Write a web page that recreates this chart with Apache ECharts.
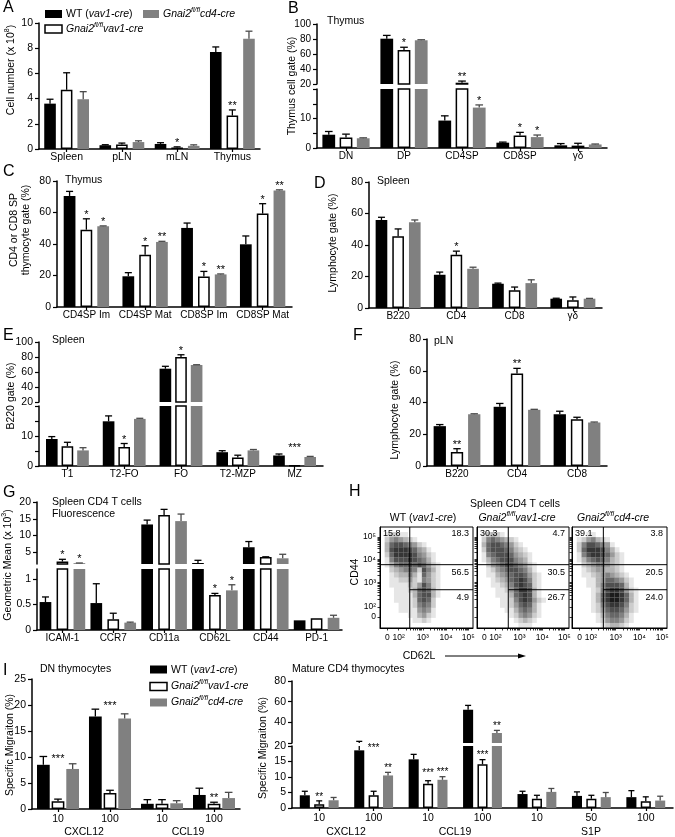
<!DOCTYPE html>
<html>
<head>
<meta charset="utf-8">
<script src="https://cdn.jsdelivr.net/npm/echarts@6.0.0/dist/echarts.min.js"></script>
<style>
html,body{margin:0;padding:0;background:#fff;}
#chart{width:675px;height:837px;}
</style>
</head>
<body>
<div id="chart"></div>
<script>
const FONT = '"Liberation Sans", Arial, Helvetica, sans-serif';

// ===== Panel A : cell number (x 10^8) =====
const catsA = ['Spleen', 'pLN', 'mLN', 'Thymus'];
const wtA = [3.6, 0.3, 0.4, 7.7];
const wtErrA = [0.35, 0.04, 0.1, 0.4];
const koA = [4.7, 0.35, 0.12, 2.65];
const koErrA = [1.35, 0.12, 0.05, 0.45];
const cdA = [3.95, 0.55, 0.25, 8.75];
const cdErrA = [0.6, 0.1, 0.08, 0.6];
const koStarA = ['', '', '*', '**'];
const ticksA = [0, 2, 4, 6, 8, 10];

// ===== Panel B : thymus cell gate (%) =====
const catsB = ['DN', 'DP', 'CD4SP', 'CD8SP', 'γδ'];
const wtB = [4.5, 80.4, 9.3, 1.8, 0.9];
const wtErrB = [1.1, 4.4, 1.6, 0.2, 0.6];
const koB = [3.6, 65.2, 21.7, 4.2, 0.8];
const koErrB = [1.1, 3.8, 2.2, 1.1, 0.8];
const cdB = [3.3, 78.3, 13.7, 3.7, 1.2];
const cdErrB = [0.15, 0.7, 0.9, 0.7, 0.15];
const koStarB = ['', '*', '**', '*', ''];
const cdStarB = ['', '', '*', '*', ''];
const ticksBUp = [20, 40, 60, 80, 100];
const ticksBLow = [0, 5, 10, 15, 20];
const labelsBLow = [0, 10];

// ===== Panel C : CD4 or CD8 SP thymocyte gate (%) =====
const catsC = ['CD4SP Im', 'CD4SP Mat', 'CD8SP Im', 'CD8SP Mat'];
const wtC = [70.5, 19.5, 50.2, 39.8];
const wtErrC = [2.9, 2.3, 3.1, 5.3];
const koC = [49.1, 33.2, 19.3, 59.3];
const koErrC = [6.9, 5.7, 3.3, 6.3];
const cdC = [51.2, 41.3, 20.7, 74.0];
const cdErrC = [0.3, 0.4, 0.3, 0.4];
const koStarC = ['*', '*', '*', '*'];
const cdStarC = ['*', '**', '**', '**'];
const ticks80 = [0, 20, 40, 60, 80];

// ===== Panel D : spleen lymphocyte gate (%) =====
const catsD = ['B220', 'CD4', 'CD8', 'γδ'];
const wtD = [55.9, 21.1, 15.4, 5.9];
const wtErrD = [1.7, 1.7, 0.4, 0.3];
const koD = [45.6, 33.8, 11.2, 4.9];
const koErrD = [4.6, 2.3, 2.1, 2.1];
const cdD = [54.4, 24.9, 15.8, 5.9];
const cdErrD = [1.5, 1.0, 2.1, 0.2];
const koStarD = ['', '*', '', ''];

// ===== Panel E : B220 gate (%) =====
const catsE = ['T1', 'T2-FO', 'FO', 'T2-MZP', 'MZ'];
const wtE = [9.0, 14.9, 64.4, 4.6, 3.5];
const wtErrE = [0.8, 1.8, 3.2, 0.5, 0.5];
const koE = [6.6, 6.3, 80.0, 2.8, 0.2];
const koErrE = [1.3, 1.2, 3.0, 0.8, 0];
const cdE = [5.2, 15.7, 69.3, 5.2, 3.0];
const cdErrE = [0.9, 0.2, 0.4, 0.3, 0.2];
const koStarE = ['', '*', '*', '', '***'];
const koStarLevelE = [null, null, null, null, 4.8];
const ticksEUp = [20, 40, 60, 80, 100];
const ticksELow = [0, 5, 10, 15, 20];
const labelsELow = [0, 10];

// ===== Panel F : pLN lymphocyte gate (%) =====
const catsF = ['B220', 'CD4', 'CD8'];
const wtF = [25.1, 37.3, 32.6];
const wtErrF = [1.0, 2.1, 1.9];
const koF = [8.8, 58.3, 29.5];
const koErrF = [2.1, 3.2, 1.2];
const cdF = [32.6, 35.4, 27.4];
const cdErrF = [0.3, 0.3, 0.3];
const koStarF = ['**', '**', ''];

// ===== Panel G : geometric mean (x 10^3) =====
const catsG = ['ICAM-1', 'CCR7', 'CD11a', 'CD62L', 'CD44', 'PD-1'];
const wtG = [0.55, 0.53, 13.3, 1.8, 6.5, 0.19];
const wtErrG = [0.1, 0.38, 1.3, 0.8, 1.7, 0];
const koG = [2.23, 0.21, 16.1, 0.69, 3.6, 0.23];
const koErrG = [0.67, 0.12, 1.7, 0.03, 0.05, 0];
const cdG = [1.75, 0.145, 14.3, 0.78, 3.2, 0.24];
const cdErrG = [0.05, 0.01, 2.1, 0.11, 1.2, 0.05];
const koStarG = ['*', '', '', '*', '', ''];
const cdStarG = ['*', '', '', '*', '', ''];
const ticksGUp = [5, 10, 15, 20];
const ticksGLow = [0, 0.5, 1];

// ===== Panel I (left) : DN thymocytes specific migration (%) =====
const catsIL = ['10', '100', '10', '100'];
const wtIL = [8.5, 17.8, 1.0, 2.7];
const wtErrIL = [1.6, 1.4, 0.8, 1.3];
const koIL = [1.5, 3.1, 1.0, 1.0];
const koErrIL = [0.4, 0.5, 0.8, 0.3];
const cdIL = [7.7, 17.4, 1.1, 2.1];
const cdErrIL = [1.0, 0.9, 0.5, 1.1];
const koStarIL = ['***', '***', '', '**'];
const koStarLevelIL = [8.9, 19.0, null, null];
const ticksIL = [0, 5, 10, 15, 20, 25];
const groupsIL = ['CXCL12', 'CCL19'];

// ===== Panel I (right) : mature CD4 thymocytes specific migration (%) =====
const catsIR = ['10', '100', '10', '100', '10', '50', '100'];
const wtIR = [4.1, 18.6, 15.7, 52.2, 4.5, 3.9, 3.5];
const wtErrIR = [1.3, 3.0, 1.6, 4.2, 0.9, 1.3, 2.1];
const koIR = [1.2, 4.1, 7.8, 14.1, 3.0, 3.0, 2.2];
const koErrIR = [1.1, 1.3, 1.0, 1.5, 1.1, 1.1, 1.4];
const cdIR = [2.5, 10.5, 9.1, 29.7, 5.2, 3.5, 2.4];
const cdErrIR = [0.9, 1.0, 1.0, 2.5, 1.1, 1.5, 1.4];
const koStarIR = ['**', '***', '***', '***', '', '', ''];
const koStarLevelIR = [null, 18.0, 9.9, null, null, null, null];
const cdStarIR = ['', '**', '***', '**', '', '', ''];
const ticksIRUp = [20, 40, 60, 80];
const labelsIRUp = [40, 60, 80];
const ticksIRLow = [0, 5, 10, 15, 20];
const groupsIR = ['CXCL12', 'CCL19', 'S1P'];

// ===== Panel H : flow cytometry (CD62L vs CD44), density, rows top->bottom =====
const densWT = [
  '00000000000000000000',
  '01221100000000000000',
  '02454321000000000000',
  '03677654210000000000',
  '03788876431000000000',
  '02688887542100000000',
  '01577787653100000000',
  '01356676764210000000',
  '00234565275310000000',
  '00123353164210000000',
  '00112242154210000000',
  '00111132475210000000',
  '00011123676310000000',
  '00011113677310000000',
  '00011112676200000000',
  '00001112565200000000',
  '00001111454100000000',
  '00000011342100000000',
  '00000001121000000000',
  '00000000000000000000'
];
const densKO = [
  '00000000000000000000',
  '01232100000000000000',
  '02565432100000000000',
  '03677654210000000000',
  '02677765321000000000',
  '01567776432100000000',
  '01356777543100000000',
  '00245677654210000000',
  '00124567765310000000',
  '00113456776421000000',
  '00012346787521000000',
  '00011235787621000000',
  '00001124688731000000',
  '00001113678731000000',
  '00000112578742100000',
  '00000112467631000000',
  '00000011356531000000',
  '00000001245421000000',
  '00000000123210000000',
  '00000000011100000000'
];
const densCD = [
  '00000000000000000000',
  '00011000000000000000',
  '01245321000000000000',
  '02577654100000000000',
  '02688875310000000000',
  '01578876421000000000',
  '01356765321000000000',
  '00234554321000000000',
  '00123443321000000000',
  '00112345432100000000',
  '00011346654210000000',
  '00011357776310000000',
  '00001257887421000000',
  '00001368998631000000',
  '00001368998631000000',
  '00001257887521000000',
  '00001246776421000000',
  '00000135665310000000',
  '00000124554210000000',
  '00000012332100000000'
];
const gateXH = [32, 34, 33];       // CD62L gate (display units)
const gateHiH = [62.7, 62.7, 62.7]; // CD44 high gate
const gateLoH = [37.9, 37.9, 37.9]; // CD44 int/low gate
const pctWT = ['15.8', '18.3', '56.5', '4.9'];
const pctKO = ['30.3', '4.7', '30.5', '26.7'];
const pctCD = ['39.1', '3.8', '20.5', '24.0'];
const hLabelX = [8, 20, 46, 71, 95];
const hLabelY = [11, 21, 45, 68, 90];
const hLabelText = ['0', '10²', '10³', '10⁴', '10⁵'];

// ================= build =================
const grids = [], xAxis = [], yAxis = [], series = [], graphic = [];
const KEYS = ['wt', 'ko', 'cd'];
const BAR_STYLE = [
  { color: '#000' },
  { color: '#fff', borderColor: '#000', borderWidth: 1.5 },
  { color: '#808080' }
];
const ERR_COLOR = ['#000', '#000', '#4a4a4a'];

function makeErr(p, meta) {
  return function (params, api) {
    const i = api.value(0), j = api.value(1), v = api.value(2), e = api.value(3);
    const band = api.size([1, 0])[0];
    const w = band * p.bw, g = w * p.gap, total = 3 * w + 2 * g;
    const cx = api.coord([i, 0])[0] - total / 2 + w / 2 + j * (w + g);
    const cs = params.coordSys, top = cs.y, bot = cs.y + cs.height;
    const yb = api.coord([i, v])[1], yt = api.coord([i, v + e])[1];
    const ch = [];
    const st = { stroke: ERR_COLOR[j], lineWidth: 1.3 };
    if (e > 0) {
      const y1 = Math.min(yb, bot), y2 = Math.max(yt, top);
      if (y1 > y2 + 0.1) ch.push({ type: 'line', shape: { x1: cx, y1: y1, x2: cx, y2: y2 }, style: st });
      if (yt >= top - 0.5 && yt <= bot + 0.5) {
        const cw = w * 0.3;
        ch.push({ type: 'line', shape: { x1: cx - cw, y1: yt, x2: cx + cw, y2: yt }, style: st });
      }
    }
    const m = meta[params.dataIndex];
    if (m.star) {
      const lvl = (m.level != null) ? m.level : v + e;
      const ys = api.coord([i, lvl])[1];
      if (ys >= top - 1 && ys <= bot) {
        ch.push({ type: 'text', x: cx, y: ys - 4, style: { text: m.star, align: 'center', verticalAlign: 'middle', textAlign: 'center', textVerticalAlign: 'middle', fontSize: p.starFont || 11, fontFamily: FONT, fill: '#000' } });
      }
    }
    return { type: 'group', children: ch };
  };
}

function addBarPanel(p) {
  p.segs.forEach(s => {
    const gi = grids.length;
    grids.push({ left: s.l, top: s.t, width: s.w, height: s.h, containLabel: false, outerBoundsMode: 'none' });
    xAxis.push({
      type: 'category', gridIndex: gi, data: p.cats, show: !!s.showX,
      axisLine: { show: !!s.showX, lineStyle: { color: '#000', width: 1.5 } },
      axisTick: { show: !!s.showX, alignWithLabel: true, length: 3, lineStyle: { color: '#000', width: 1.2 } },
      axisLabel: { show: !!s.showX, interval: 0, color: '#000', fontSize: p.catFont || 10, fontFamily: FONT, margin: p.catMargin || 3 },
      splitLine: { show: false }
    });
    yAxis.push({
      type: 'value', gridIndex: gi, min: s.min, max: s.max,
      axisLine: { show: true, lineStyle: { color: '#000', width: 1.5 } },
      axisTick: { show: true, length: 4, customValues: s.ticks, lineStyle: { color: '#000', width: 1.2 } },
      axisLabel: { show: true, customValues: s.labels || s.ticks, color: '#000', fontSize: p.tickFont || 10.5, fontFamily: FONT, margin: 6 },
      splitLine: { show: false }
    });
    KEYS.forEach((k, j) => series.push({
      type: 'bar', xAxisIndex: gi, yAxisIndex: gi, data: p[k],
      barWidth: (p.bw * 100) + '%', barGap: (p.gap * 100) + '%',
      itemStyle: BAR_STYLE[j], clip: true, silent: true, animation: false, z: 2
    }));
    const items = [], meta = [];
    KEYS.forEach((k, j) => p[k].forEach((v, i) => {
      items.push([i, j, v, p[k + 'Err'][i]]);
      meta.push({ star: (p[k + 'Star'] || [])[i] || '', level: (p[k + 'Level'] || [])[i] });
    }));
    series.push({
      type: 'custom', xAxisIndex: gi, yAxisIndex: gi, data: items, encode: { x: 0, y: 2 },
      silent: true, animation: false, z: 5, renderItem: makeErr(p, meta)
    });
  });
}

addBarPanel({ cats: catsA, wt: wtA, wtErr: wtErrA, ko: koA, koErr: koErrA, cd: cdA, cdErr: cdErrA, koStar: koStarA,
  bw: 0.21, gap: 0.43, catFont: 10.5,
  segs: [{ l: 39, t: 23, w: 221, h: 126, min: 0, max: 10, ticks: ticksA, showX: true }] });

addBarPanel({ cats: catsB, wt: wtB, wtErr: wtErrB, ko: koB, koErr: koErrB, cd: cdB, cdErr: cdErrB, koStar: koStarB, cdStar: cdStarB,
  bw: 0.22, gap: 0.35, tickFont: 10,
  segs: [{ l: 317, t: 24, w: 290, h: 60, min: 20, max: 100, ticks: ticksBUp, showX: false },
         { l: 317, t: 89, w: 290, h: 59, min: 0, max: 20, ticks: ticksBLow, labels: labelsBLow, showX: true }] });

addBarPanel({ cats: catsC, wt: wtC, wtErr: wtErrC, ko: koC, koErr: koErrC, cd: cdC, cdErr: cdErrC, koStar: koStarC, cdStar: cdStarC,
  bw: 0.20, gap: 0.43,
  segs: [{ l: 57, t: 181, w: 235, h: 126, min: 0, max: 80, ticks: ticks80, showX: true }] });

addBarPanel({ cats: catsD, wt: wtD, wtErr: wtErrD, ko: koD, koErr: koErrD, cd: cdD, cdErr: cdErrD, koStar: koStarD,
  bw: 0.20, gap: 0.43,
  segs: [{ l: 369, t: 182, w: 233, h: 126, min: 0, max: 80, ticks: ticks80, showX: true }] });

addBarPanel({ cats: catsE, wt: wtE, wtErr: wtErrE, ko: koE, koErr: koErrE, cd: cdE, cdErr: cdErrE, koStar: koStarE, koLevel: koStarLevelE,
  bw: 0.205, gap: 0.34,
  segs: [{ l: 39, t: 342, w: 284, h: 60, min: 20, max: 100, ticks: ticksEUp, showX: false },
         { l: 39, t: 406, w: 284, h: 60, min: 0, max: 20, ticks: ticksELow, labels: labelsELow, showX: true }] });

addBarPanel({ cats: catsF, wt: wtF, wtErr: wtErrF, ko: koF, koErr: koErrF, cd: cdF, cdErr: cdErrF, koStar: koStarF,
  bw: 0.205, gap: 0.40,
  segs: [{ l: 427, t: 339, w: 180, h: 127, min: 0, max: 80, ticks: ticks80, showX: true }] });

addBarPanel({ cats: catsG, wt: wtG, wtErr: wtErrG, ko: koG, koErr: koErrG, cd: cdG, cdErr: cdErrG, koStar: koStarG, cdStar: cdStarG,
  bw: 0.23, gap: 0.45,
  segs: [{ l: 37, t: 502, w: 305, h: 62, min: 1.5, max: 20, ticks: ticksGUp, showX: false },
         { l: 37, t: 569, w: 305, h: 61, min: 0, max: 1.2, ticks: ticksGLow, showX: true }] });

addBarPanel({ cats: catsIL, wt: wtIL, wtErr: wtErrIL, ko: koIL, koErr: koErrIL, cd: cdIL, cdErr: cdErrIL, koStar: koStarIL, koLevel: koStarLevelIL,
  bw: 0.245, gap: 0.15, catFont: 10.5, catMargin: 5,
  segs: [{ l: 32, t: 679, w: 208, h: 130, min: 0, max: 25, ticks: ticksIL, showX: true }] });

addBarPanel({ cats: catsIR, wt: wtIR, wtErr: wtErrIR, ko: koIR, koErr: koErrIR, cd: cdIR, cdErr: cdErrIR, koStar: koStarIR, koLevel: koStarLevelIR, cdStar: cdStarIR,
  bw: 0.185, gap: 0.43, catFont: 10.5, catMargin: 5, starFont: 10,
  segs: [{ l: 292, t: 681, w: 381, h: 62, min: 20, max: 80, ticks: ticksIRUp, labels: labelsIRUp, showX: false },
         { l: 292, t: 746, w: 381, h: 62, min: 0, max: 20, ticks: ticksIRLow, showX: true }] });

// ---------- flow cytometry plots ----------
function logTicks(major) {
  const out = major.slice();
  for (let k = 1; k < major.length - 1; k++) {
    const a = major[k], b = major[k + 1];
    for (let m = 2; m < 10; m++) out.push(a + Math.log10(m) * (b - a));
  }
  return out;
}
const hPlots = [
  { dens: densWT, pct: pctWT, n: 0, rect: { l: 380, t: 527, w: 93, h: 101 } },
  { dens: densKO, pct: pctKO, n: 1, rect: { l: 477, t: 527, w: 92, h: 101 } },
  { dens: densCD, pct: pctCD, n: 2, rect: { l: 572, t: 527, w: 95, h: 101 } }
];
hPlots.forEach(hp => {
  const gi = grids.length, r = hp.rect;
  grids.push({ left: r.l, top: r.t, width: r.w, height: r.h, show: true, borderColor: '#000', borderWidth: 1, backgroundColor: 'rgba(0,0,0,0)', containLabel: false, outerBoundsMode: 'none' });
  xAxis.push({
    type: 'value', gridIndex: gi, min: 0, max: 100,
    axisLine: { show: true, onZero: false, lineStyle: { color: '#000', width: 1 } },
    axisTick: { show: true, customValues: logTicks(hLabelX), length: 2.5, lineStyle: { color: '#000', width: 0.8 } },
    axisLabel: { show: true, customValues: hLabelX, formatter: v => hLabelText[hLabelX.indexOf(v)], color: '#000', fontSize: 8.5, fontFamily: FONT, margin: 5 },
    splitLine: { show: false }
  });
  yAxis.push({
    type: 'value', gridIndex: gi, min: 0, max: 100,
    axisLine: { show: true, onZero: false, lineStyle: { color: '#000', width: 1 } },
    axisTick: { show: true, customValues: logTicks(hLabelY), length: 2.5, lineStyle: { color: '#000', width: 0.8 } },
    axisLabel: { show: hp.n === 0, customValues: hLabelY, formatter: v => hLabelText[hLabelY.indexOf(v)], color: '#000', fontSize: 8.5, fontFamily: FONT, margin: 4 },
    splitLine: { show: false }
  });
  const rows = hp.dens.length, cols = hp.dens[0].length;
  const cw = 100 / cols, chh = 100 / rows;
  const cells = [];
  hp.dens.forEach((row, ri) => {
    for (let c = 0; c < row.length; c++) { const d = +row[c]; if (d > 0) cells.push([c, ri, d]); }
  });
  series.push({
    type: 'custom', xAxisIndex: gi, yAxisIndex: gi, data: cells, encode: { x: 0, y: 1 }, silent: true, animation: false, z: 1,
    renderItem: (params, api) => {
      const c = api.value(0), ri = api.value(1), d = api.value(2);
      const p0 = api.coord([c * cw, 100 - ri * chh]);
      const p1 = api.coord([(c + 1) * cw, 100 - (ri + 1) * chh]);
      return { type: 'rect', shape: { x: p0[0], y: p0[1], width: p1[0] - p0[0], height: p1[1] - p0[1] },
        style: { fill: 'rgba(15,15,15,' + Math.min(0.95, 0.105 * d).toFixed(3) + ')' } };
    }
  });
  series.push({
    type: 'custom', xAxisIndex: gi, yAxisIndex: gi, data: [[gateXH[hp.n], gateHiH[hp.n]]], encode: { x: 0, y: 1 }, silent: true, animation: false, z: 3,
    renderItem: (params, api) => {
      const cs = params.coordSys, L = cs.x, R = cs.x + cs.width, T = cs.y, B = cs.y + cs.height;
      const gx = api.coord([gateXH[hp.n], 0])[0];
      const gh = api.coord([0, gateHiH[hp.n]])[1];
      const gl = api.coord([0, gateLoH[hp.n]])[1];
      const st = { stroke: '#000', lineWidth: 1 };
      const ts = (t, x, y, al) => ({ type: 'text', x: x, y: y, style: { text: t, align: al, textAlign: al, verticalAlign: 'middle', textVerticalAlign: 'middle', fontSize: 9, fontFamily: FONT, fill: '#000' } });
      return { type: 'group', children: [
        { type: 'line', shape: { x1: gx, y1: T, x2: gx, y2: B }, style: st },
        { type: 'line', shape: { x1: L, y1: gh, x2: R, y2: gh }, style: st },
        { type: 'line', shape: { x1: gx, y1: gl, x2: R, y2: gl }, style: st },
        ts(hp.pct[0], L + 3, T + 7, 'left'),
        ts(hp.pct[1], R - 4, T + 7, 'right'),
        ts(hp.pct[2], R - 4, gh + 8, 'right'),
        ts(hp.pct[3], R - 4, gl + 8, 'right')
      ] };
    }
  });
});

// ---------- text / legends ----------
function rich(size) {
  return {
    n: { fontSize: size, fontFamily: FONT, lineHeight: size + 5, fill: '#000' },
    i: { fontSize: size, fontFamily: FONT, fontStyle: 'italic', lineHeight: size + 5, fill: '#000' },
    s: { fontSize: Math.round(size * 0.62), fontFamily: FONT, fontStyle: 'italic', lineHeight: size * 0.8, verticalAlign: 'top', fill: '#000' },
    p: { fontSize: Math.round(size * 0.62), fontFamily: FONT, lineHeight: size * 0.8, verticalAlign: 'top', fill: '#000' }
  };
}
function txt(x, y, text, o) {
  o = o || {};
  const size = o.size || 10.5;
  graphic.push({
    type: 'text', x: x, y: y, rotation: o.rot || 0, silent: true,
    style: { text: text, fill: '#000', fontSize: size, fontFamily: FONT, fontStyle: o.italic ? 'italic' : 'normal',
      align: o.align || 'left', verticalAlign: 'middle', textAlign: o.align || 'left', textVerticalAlign: 'middle',
      rich: rich(size) }
  });
}
function box(x, y, w, h, k) {
  graphic.push({ type: 'rect', silent: true, shape: { x: x, y: y, width: w, height: h },
    style: k === 1 ? { fill: '#fff', stroke: '#000', lineWidth: 1.5 } : { fill: k === 0 ? '#000' : '#808080' } });
}
const LEG = ['{n|WT (}{i|vav1-cre}{n|)}', '{i|Gnai2}{s|fl/fl}{i|vav1-cre}', '{i|Gnai2}{s|fl/fl}{i|cd4-cre}'];
const ROT = Math.PI / 2;

// panel letters
[['A', 3, 8], ['B', 288, 9], ['C', 3, 172], ['D', 314, 184], ['E', 3, 336], ['F', 353, 336], ['G', 3, 493], ['H', 349, 492], ['I', 3, 671]]
  .forEach(a => txt(a[1], a[2], a[0], { size: 16 }));

// legend A
box(45, 10, 17, 8, 0); txt(66, 14, LEG[0]);
box(143, 10, 16, 8, 2); txt(163, 14, LEG[2]);
box(45, 25, 17, 8, 1); txt(66, 29, LEG[1]);
// legend I
box(150, 665.5, 17, 8, 0); txt(171, 670, LEG[0]);
box(150, 682.5, 17, 8, 1); txt(171, 686.5, LEG[1]);
box(150, 698.5, 17, 8, 2); txt(171, 702.5, LEG[2]);

// titles
txt(327, 21, 'Thymus');
txt(65, 180, 'Thymus');
txt(377, 181, 'Spleen');
txt(52, 340, 'Spleen');
txt(434, 341, 'pLN');
txt(52, 502, 'Spleen CD4 T cells');
txt(52, 514, 'Fluorescence');
txt(40, 669, 'DN thymocytes');
txt(292, 669, 'Mature CD4 thymocytes');

// axis names
txt(11, 70, '{n|Cell number (x 10}{p|8}{n|)}', { rot: ROT, align: 'center' });
txt(292, 86, 'Thymus cell gate (%)', { rot: ROT, align: 'center' });
txt(14, 230, 'CD4 or CD8 SP', { rot: ROT, align: 'center' });
txt(26, 230, 'thymocyte gate (%)', { rot: ROT, align: 'center' });
txt(333, 243, 'Lymphocyte gate (%)', { rot: ROT, align: 'center' });
txt(11, 396, 'B220 gate (%)', { rot: ROT, align: 'center' });
txt(395, 410, 'Lymphocyte gate (%)', { rot: ROT, align: 'center' });
txt(8, 565, '{n|Geometric Mean (x 10}{p|3}{n|)}', { rot: ROT, align: 'center' });
txt(10, 745, 'Specific Migraiton (%)', { rot: ROT, align: 'center' });
txt(263, 748, 'Specific Migraiton (%)', { rot: ROT, align: 'center' });

// I group labels
txt(84, 832, groupsIL[0], { align: 'center' });
txt(188, 832, groupsIL[1], { align: 'center' });
txt(346, 832, groupsIR[0], { align: 'center' });
txt(455, 832, groupsIR[1], { align: 'center' });
txt(591, 832, groupsIR[2], { align: 'center' });

// H texts
txt(515, 504, 'Spleen CD4 T cells', { align: 'center' });
txt(423, 518, LEG[0], { align: 'center' });
txt(517, 518, LEG[1], { align: 'center' });
txt(613, 518, LEG[2], { align: 'center' });
txt(355, 572, 'CD44', { rot: ROT, align: 'center' });
txt(419, 656, 'CD62L', { align: 'center' });
graphic.push({ type: 'line', silent: true, shape: { x1: 445, y1: 656, x2: 520, y2: 656 }, style: { stroke: '#000', lineWidth: 1 } });
graphic.push({ type: 'polygon', silent: true, shape: { points: [[526, 656], [518, 653.5], [518, 658.5]] }, style: { fill: '#000' } });

const chart = echarts.init(document.getElementById('chart'), null, { renderer: 'canvas' });
chart.setOption({
  animation: false,
  backgroundColor: '#fff',
  grid: grids, xAxis: xAxis, yAxis: yAxis, series: series, graphic: graphic
});
</script>
</body>
</html>
